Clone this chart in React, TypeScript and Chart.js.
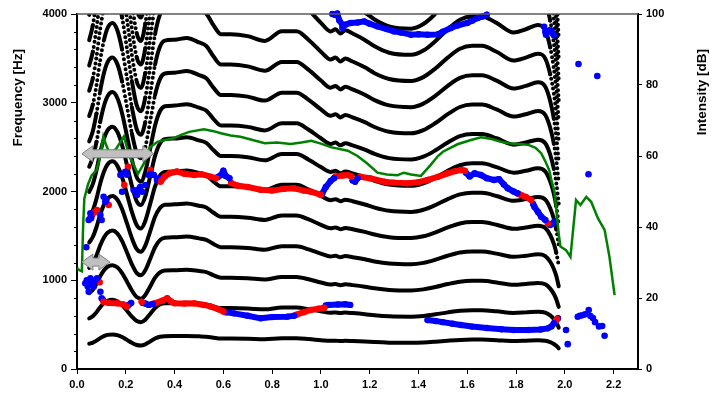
import React, { useEffect, useRef } from "react";
import { Chart, registerables } from "chart.js";
Chart.register(...registerables);

type Kind = "r" | "b";
type TrackPt = [number, number, Kind];

// ---------- fundamental frequency contour (Hz); harmonics are n * F0 ----------
const f0Times = [0.05, 0.065, 0.08, 0.095, 0.11, 0.125, 0.145, 0.165, 0.185, 0.205, 0.225, 0.245, 0.262, 0.28, 0.3, 0.32, 0.34, 0.36, 0.4, 0.45, 0.5, 0.53, 0.56, 0.59, 0.63, 0.7, 0.77, 0.84, 0.9, 0.95, 1.0, 1.04, 1.06, 1.08, 1.1, 1.13, 1.18, 1.22, 1.28, 1.37, 1.42, 1.47, 1.52, 1.57, 1.62, 1.66, 1.72, 1.79, 1.84, 1.89, 1.92, 1.94, 1.955, 1.965, 1.975];
const f0Hz = [285, 298, 320, 348, 370, 384, 390, 382, 360, 328, 295, 270, 264, 278, 310, 343, 363, 370, 371, 373, 368, 364, 352, 343, 343, 341, 336, 346, 346, 337, 325, 317, 319, 315, 318, 315, 309, 303, 297, 295, 299, 308, 319, 328, 331, 331, 325, 316, 319, 323, 318, 302, 282, 262, 233];
const harmonicNumbers = [1, 2, 3, 4, 5, 6, 7, 8, 9, 10, 11, 12, 13, 14, 15, 16, 17, 18];

// ---------- formant tracks (Hz), r = red, b = blue ----------
const f2Track: TrackPt[] = [
  [0.345, 2120, "r"], [0.36, 2170, "r"], [0.38, 2205, "r"], [0.41, 2225, "r"], [0.44, 2200, "r"], [0.48, 2186, "r"], [0.51, 2195, "r"], [0.547, 2167, "r"], [0.57, 2150, "r"],
  [0.578, 2165, "b"], [0.59, 2185, "b"], [0.6, 2235, "b"], [0.61, 2175, "b"], [0.625, 2150, "b"],
  [0.632, 2095, "r"], [0.66, 2065, "r"], [0.7, 2050, "r"], [0.753, 2020, "r"], [0.8, 2010, "r"], [0.85, 2030, "r"], [0.89, 2036, "r"], [0.93, 2010, "r"], [0.96, 1998, "r"], [1.0, 1961, "r"],
  [1.005, 1975, "b"], [1.02, 2050, "b"], [1.04, 2120, "b"], [1.054, 2150, "b"],
  [1.06, 2170, "r"], [1.09, 2180, "r"], [1.11, 2186, "r"], [1.125, 2170, "r"],
  [1.13, 2125, "b"], [1.14, 2110, "b"], [1.15, 2150, "b"],
  [1.16, 2167, "r"], [1.2, 2150, "r"], [1.26, 2110, "r"], [1.3, 2100, "r"], [1.355, 2092, "r"], [1.4, 2105, "r"], [1.437, 2130, "r"], [1.48, 2165, "r"], [1.52, 2205, "r"], [1.55, 2230, "r"], [1.575, 2242, "r"], [1.59, 2235, "r"],
  [1.595, 2210, "b"], [1.61, 2170, "b"], [1.63, 2205, "b"], [1.656, 2186, "b"], [1.68, 2150, "b"], [1.71, 2130, "b"], [1.73, 2140, "b"], [1.75, 2080, "b"], [1.766, 2036, "b"], [1.79, 2000, "b"], [1.805, 1980, "b"],
  [1.81, 1975, "r"], [1.82, 1961, "r"], [1.84, 1940, "r"], [1.862, 1904, "r"],
  [1.87, 1860, "b"], [1.875, 1829, "b"], [1.89, 1770, "b"], [1.903, 1716, "b"], [1.92, 1680, "b"],
  [1.93, 1641, "r"],
  [1.94, 1623, "b"], [1.95, 1640, "b"], [1.957, 1660, "b"],
];
const f1TrackA: TrackPt[] = [
  [0.109, 758, "r"], [0.13, 745, "r"], [0.164, 740, "r"], [0.19, 728, "r"], [0.205, 702, "r"],
  [0.212, 722, "b"], [0.222, 745, "b"],
];
const f1TrackB: TrackPt[] = [
  [0.265, 758, "r"],
  [0.27, 745, "b"], [0.28, 738, "b"], [0.294, 722, "b"], [0.31, 732, "b"],
  [0.32, 742, "r"], [0.35, 770, "r"], [0.37, 797, "r"], [0.385, 760, "r"], [0.4, 742, "r"], [0.44, 737, "r"], [0.48, 740, "r"], [0.52, 722, "r"], [0.547, 705, "r"], [0.58, 672, "r"], [0.6, 648, "r"],
  [0.61, 640, "b"], [0.643, 627, "b"], [0.7, 600, "b"], [0.753, 571, "b"], [0.8, 585, "b"], [0.862, 590, "b"], [0.89, 600, "b"],
  [0.9, 612, "r"], [0.93, 640, "r"], [0.958, 665, "r"], [0.99, 680, "r"], [1.013, 690, "r"],
  [1.02, 715, "b"], [1.03, 722, "b"], [1.07, 727, "b"], [1.1, 730, "b"], [1.12, 722, "b"],
];
const f1TrackC: TrackPt[] = [
  [1.437, 552, "b"], [1.47, 540, "b"], [1.5, 528, "b"], [1.54, 510, "b"], [1.574, 496, "b"], [1.62, 478, "b"], [1.68, 462, "b"], [1.74, 448, "b"], [1.79, 439, "b"], [1.85, 440, "b"], [1.9, 445, "b"], [1.93, 458, "b"], [1.945, 480, "b"], [1.955, 515, "b"],
  [1.962, 540, "r"], [1.968, 560, "r"],
  [1.972, 571, "b"],
];
const topTrack: TrackPt[] = [
  [1.047, 4000, "b"], [1.06, 3990, "b"], [1.067, 4005, "b"], [1.075, 3930, "b"], [1.088, 3880, "b"], [1.1, 3880, "b"], [1.122, 3899, "b"], [1.15, 3905, "b"], [1.177, 3917, "b"], [1.2, 3890, "b"], [1.231, 3861, "b"], [1.27, 3830, "b"], [1.3, 3804, "b"], [1.33, 3790, "b"], [1.369, 3767, "b"], [1.4, 3772, "b"], [1.437, 3767, "b"], [1.478, 3770, "b"], [1.5, 3800, "b"], [1.533, 3842, "b"], [1.56, 3870, "b"], [1.6, 3899, "b"], [1.62, 3925, "b"], [1.643, 3955, "b"], [1.66, 3970, "b"], [1.68, 3992, "b"],
];

// isolated formant points (t, Hz)
const scatterBlue: [number, number][] = [
  [0.034, 966], [0.04, 1000], [0.044, 930], [0.048, 871], [0.055, 1022], [0.06, 960], [0.068, 927], [0.075, 1000], [0.082, 1022], [0.096, 871], [0.101, 797], [0.106, 780],
  [0.038, 1371],
  [0.048, 1679], [0.055, 1754], [0.058, 1700], [0.096, 1735], [0.101, 1679], [0.109, 1941], [0.116, 1885], [0.12, 1900], [0.178, 2186], [0.185, 1998], [0.198, 2223], [0.205, 2190], [0.232, 2017], [0.24, 2000], [0.246, 1961], [0.255, 2030], [0.26, 2054], [0.267, 1998], [0.28, 2073], [0.294, 2186], [0.305, 2200], [0.315, 2186], [0.328, 2130], [0.335, 2150],
  [1.088, 3842],
  [1.915, 3857], [1.92, 3800], [1.923, 3765], [1.93, 3801], [1.94, 3820], [1.951, 3782], [1.955, 3760],
  [2.005, 439], [2.012, 280], [2.053, 589], [2.062, 600], [2.072, 605], [2.083, 616], [2.098, 665], [2.105, 598], [2.115, 575], [2.124, 528], [2.14, 480], [2.153, 485], [2.163, 375],
  [2.056, 3437], [2.133, 3301], [2.097, 2194],
];
const scatterRed: [number, number][] = [
  [0.062, 1735], [0.072, 1765], [0.082, 1792], [0.13, 1848], [0.194, 2073], [0.209, 2279], [0.301, 2242], [0.342, 2110], [0.093, 977],
];

// ---------- intensity (dB, right axis) ----------
const intensityTimes = [0.0, 0.01, 0.02, 0.025, 0.03, 0.045, 0.06, 0.08, 0.095, 0.108, 0.12, 0.135, 0.16, 0.192, 0.215, 0.25, 0.275, 0.3, 0.33, 0.36, 0.395, 0.43, 0.46, 0.52, 0.56, 0.59, 0.63, 0.67, 0.72, 0.77, 0.82, 0.876, 0.92, 0.96, 1.0, 1.04, 1.11, 1.15, 1.19, 1.232, 1.27, 1.314, 1.34, 1.37, 1.41, 1.45, 1.48, 1.5, 1.56, 1.615, 1.656, 1.7, 1.738, 1.77, 1.807, 1.848, 1.88, 1.903, 1.92, 1.936, 1.944, 1.957, 1.965, 1.975, 1.982, 2.005, 2.023, 2.046, 2.064, 2.088, 2.108, 2.136, 2.163, 2.183, 2.204];
const intensityDb = [28.5, 27.8, 27.5, 40, 48, 52, 54.5, 56, 60, 65.5, 63, 60.5, 62, 65.5, 60, 55, 58, 62.5, 64, 64.5, 65, 66, 66.8, 67.5, 67, 66.4, 65.8, 65.4, 64.5, 63.6, 63.8, 63.4, 63.8, 64.3, 63.5, 62.5, 61.5, 60, 57.9, 55.3, 54.8, 54.6, 55.3, 54.8, 54.4, 57.5, 60, 61.2, 63.3, 64.5, 65.3, 64.8, 64, 63.6, 63.4, 63.2, 62.3, 60.8, 58.5, 56, 53.5, 50, 45, 38, 34.5, 33.5, 31.6, 47.6, 46.2, 48.5, 47.1, 42.4, 39.2, 31.6, 20.8];

// ---------- annotation arrows ----------
const arrowStartS = [0.02, 0.02];
const arrowEndS = [0.315, 0.135];
const arrowHz = [2425, 1205];

// ---------- axis ticks ----------
const minorFreqTicks = [200, 400, 600, 800, 1200, 1400, 1600, 1800, 2200, 2400, 2600, 2800, 3200, 3400, 3600, 3800];
const freqTitle = "Frequency [Hz]";
const dbTitle = "Intensity [dB]";

const FONT = "'Liberation Sans', Arial, sans-serif";
const COLORS: Record<Kind, string> = { r: "#ff0000", b: "#0000ff" };

function splitRuns(track: TrackPt[]) {
  const runs: { kind: Kind; pts: { x: number; y: number }[] }[] = [];
  for (const [t, f, k] of track) {
    const last = runs[runs.length - 1];
    if (last && last.kind === k) last.pts.push({ x: t, y: f });
    else runs.push({ kind: k, pts: [{ x: t, y: f }] });
  }
  return runs;
}

const decorPlugin = {
  id: "decor",
  afterDatasetsDraw(chart: any) {
    const { ctx, scales } = chart;
    const xs = scales.x;
    const ys = scales.y;
    ctx.save();
    for (let i = 0; i < arrowHz.length; i++) {
      const x1 = xs.getPixelForValue(arrowStartS[i]);
      const x2 = xs.getPixelForValue(arrowEndS[i]);
      const y = ys.getPixelForValue(arrowHz[i]);
      const hl = 11, hh = 8, sh = 4;
      ctx.beginPath();
      ctx.moveTo(x1, y);
      ctx.lineTo(x1 + hl, y - hh);
      ctx.lineTo(x1 + hl, y - sh);
      ctx.lineTo(x2 - hl, y - sh);
      ctx.lineTo(x2 - hl, y - hh);
      ctx.lineTo(x2, y);
      ctx.lineTo(x2 - hl, y + hh);
      ctx.lineTo(x2 - hl, y + sh);
      ctx.lineTo(x1 + hl, y + sh);
      ctx.lineTo(x1 + hl, y + hh);
      ctx.closePath();
      ctx.fillStyle = "#c0c0c0";
      ctx.fill();
      ctx.strokeStyle = "#7f7f7f";
      ctx.lineWidth = 1;
      ctx.stroke();
    }
    ctx.restore();
  },
  afterDraw(chart: any) {
    const { ctx, chartArea, scales } = chart;
    const ys = scales.y;
    ctx.save();
    ctx.strokeStyle = "#5a5a5a";
    ctx.lineWidth = 1.5;
    ctx.beginPath();
    ctx.moveTo(chartArea.left, chartArea.top);
    ctx.lineTo(chartArea.right, chartArea.top);
    ctx.stroke();
    ctx.strokeStyle = "#000";
    ctx.lineWidth = 1;
    for (const v of minorFreqTicks) {
      const y = Math.round(ys.getPixelForValue(v)) + 0.5;
      ctx.beginPath();
      ctx.moveTo(chartArea.left - 3, y);
      ctx.lineTo(chartArea.left, y);
      ctx.stroke();
    }
    ctx.fillStyle = "#000";
    ctx.font = `bold 13.5px ${FONT}`;
    ctx.textAlign = "right";
    ctx.textBaseline = "middle";
    ctx.save();
    ctx.translate(18.5, 49);
    ctx.rotate(-Math.PI / 2);
    ctx.fillText(freqTitle, 0, 0);
    ctx.restore();
    ctx.save();
    ctx.translate(702.5, 49);
    ctx.rotate(-Math.PI / 2);
    ctx.fillText(dbTitle, 0, 0);
    ctx.restore();
    ctx.restore();
  },
};

function buildConfig(): any {
  const datasets: any[] = [];

  harmonicNumbers.forEach((n) => {
    datasets.push({
      data: f0Times.map((t, i) => ({ x: t, y: n * f0Hz[i] })),
      showLine: true,
      borderColor: "#000",
      borderWidth: 4,
      borderCapStyle: "round",
      borderJoinStyle: "round",
      pointRadius: 0,
      cubicInterpolationMode: "monotone",
      clip: 0,
      order: 3,
      yAxisID: "y",
      segment: {
        borderDash: (c: any) => {
          const dx = Math.abs(c.p1.x - c.p0.x);
          const dy = Math.abs(c.p1.y - c.p0.y);
          return dy > 5.2 * Math.max(dx, 0.01) ? [0, 5] : undefined;
        },
      },
    });
  });

  const addTrack = (track: TrackPt[]) => {
    for (const run of splitRuns(track)) {
      datasets.push({
        data: run.pts,
        showLine: true,
        borderColor: COLORS[run.kind],
        backgroundColor: COLORS[run.kind],
        borderWidth: 6,
        borderCapStyle: "round",
        borderJoinStyle: "round",
        pointRadius: 3.2,
        pointBorderWidth: 0,
        clip: 4,
        order: 2,
        yAxisID: "y",
      });
    }
  };
  [f2Track, f1TrackA, f1TrackB, f1TrackC, topTrack].forEach(addTrack);

  const addScatter = (pts: [number, number][], color: string) =>
    datasets.push({
      data: pts.map(([t, f]) => ({ x: t, y: f })),
      showLine: false,
      backgroundColor: color,
      borderColor: color,
      pointRadius: 3.3,
      pointBorderWidth: 0,
      clip: 4,
      order: 2,
      yAxisID: "y",
    });
  addScatter(scatterBlue, COLORS.b);
  addScatter(scatterRed, COLORS.r);

  datasets.push({
    data: intensityTimes.map((t, i) => ({ x: t, y: intensityDb[i] })),
    showLine: true,
    borderColor: "#008000",
    borderWidth: 2.5,
    pointRadius: 0,
    tension: 0,
    order: 1,
    yAxisID: "y2",
  });

  const tickFont = { family: FONT, size: 11, weight: "bold" };

  return {
    type: "scatter",
    data: { datasets },
    plugins: [decorPlugin],
    options: {
      animation: false,
      responsive: true,
      maintainAspectRatio: false,
      events: [],
      layout: { padding: { top: 14, left: 0, right: 0, bottom: 0 } },
      plugins: { legend: { display: false }, tooltip: { enabled: false } },
      scales: {
        x: {
          type: "linear",
          min: 0,
          max: 2.3,
          ticks: {
            stepSize: 0.2,
            includeBounds: false,
            color: "#000",
            font: tickFont,
            padding: 4,
            maxRotation: 0,
            callback: (v: any) => Number(v).toFixed(1),
          },
          grid: { drawOnChartArea: false, drawTicks: true, tickLength: 5, color: "#000", tickColor: "#000" },
          border: { display: true, color: "#000", width: 2 },
          afterFit: (s: any) => { s.height = 28; },
        },
        y: {
          type: "linear",
          position: "left",
          min: 0,
          max: 4000,
          ticks: {
            stepSize: 1000,
            color: "#000",
            font: tickFont,
            padding: 4,
            callback: (v: any) => String(v),
          },
          grid: { drawOnChartArea: false, drawTicks: true, tickLength: 6, color: "#000", tickColor: "#000" },
          border: { display: true, color: "#000", width: 2 },
          afterFit: (s: any) => { s.width = 77; },
        },
        y2: {
          type: "linear",
          position: "right",
          min: 0,
          max: 100,
          ticks: {
            stepSize: 20,
            color: "#000",
            font: tickFont,
            padding: 4,
            callback: (v: any) => String(v),
          },
          grid: { drawOnChartArea: false, drawTicks: true, tickLength: 4, color: "#000", tickColor: "#000" },
          border: { display: true, color: "#000", width: 2 },
          afterFit: (s: any) => { s.width = 76; },
        },
      },
    },
  };
}

export default function App() {
  const ref = useRef<HTMLCanvasElement>(null);
  useEffect(() => {
    const chart = new Chart(ref.current as HTMLCanvasElement, buildConfig());
    return () => chart.destroy();
  }, []);
  return (
    <div style={{ position: "fixed", left: 0, top: 0, width: 714, height: 397, background: "#fff" }}>
      <canvas ref={ref} />
    </div>
  );
}
